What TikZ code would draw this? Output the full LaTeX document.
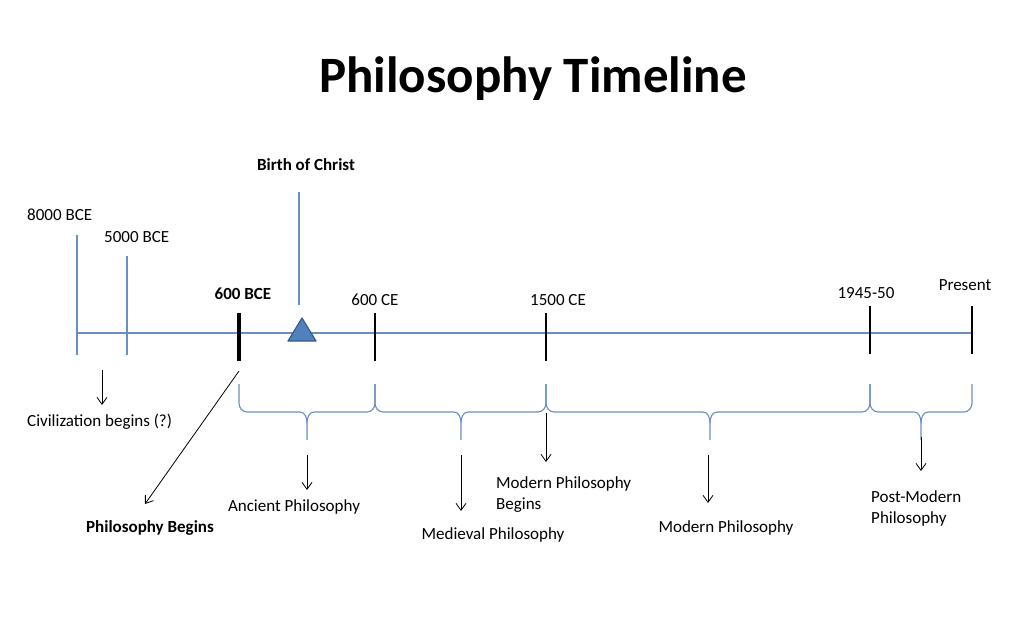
\documentclass[tikz,border=0pt]{standalone}
\usepackage{fontspec}
\setmainfont{Carlito}
\usetikzlibrary{arrows.meta}
\definecolor{tlblue}{RGB}{105,142,196}
\definecolor{tlfill}{RGB}{79,129,189}
\definecolor{tledge}{RGB}{56,93,138}

\begin{document}
\begin{tikzpicture}[x=1pt,y=-1pt,
    lbl/.style={font=\fontsize{17}{21}\selectfont, inner sep=0pt},
    blbl/.style={font=\fontsize{17}{21}\selectfont\bfseries, inner sep=0pt},
    bluetick/.style={draw=tlblue, line width=1.1pt},
    blacktick/.style={draw=black, line width=1.3pt},
    brace/.style={draw=tlblue, line width=1.1pt},
    pointer/.style={-{Straight Barb[length=7pt,width=10pt]}, line width=0.8pt}]
\fill[white] (0,0) rectangle (1024,640);
\useasboundingbox (0,0) rectangle (1024,640);
% Title
\node[font=\fontsize{51}{56}\selectfont\bfseries] (title) at (533,79) {Philosophy Timeline};
% Dates
\node[lbl, anchor=west] (d8000) at (27,215) {8000 BCE};
\node[lbl, anchor=west] (d5000) at (104,237) {5000 BCE};
\node[blbl] (d600b) at (243,294) {600 BCE};
\node[blbl] (christ) at (306,165) {Birth of Christ};
\node[lbl] (d600c) at (375,300) {600 CE};
\node[lbl] (d1500) at (558,300) {1500 CE};
\node[lbl] (d1945) at (866,293) {1945-50};
\node[lbl] (present) at (965,285) {Present};
% Tick ends
\coordinate (s) at (77,333);
\coordinate (e) at (972,333);
\coordinate (t8000a) at (77,235); \coordinate (t8000b) at (77,355);
\coordinate (t5000a) at (127,256); \coordinate (t5000b) at (127,355);
\coordinate (t600ba) at (239,313); \coordinate (t600bb) at (239,361);
\coordinate (tchra) at (299,192); \coordinate (tchrb) at (299,305);
\coordinate (t600ca) at (375,313); \coordinate (t600cb) at (375,361);
\coordinate (t1500a) at (546,313); \coordinate (t1500b) at (546,361);
\coordinate (t1945a) at (870,306); \coordinate (t1945b) at (870,354);
\coordinate (tnowa) at (972,306); \coordinate (tnowb) at (972,354);
% Timeline
\draw[bluetick] (s) -- (e);
\draw[bluetick] (t8000a) -- (t8000b);
\draw[bluetick] (t5000a) -- (t5000b);
\draw[bluetick] (tchra) -- (tchrb);
\draw[black, line width=4.5pt] (t600ba) -- (t600bb);
\draw[blacktick] (t600ca) -- (t600cb);
\draw[blacktick] (t1500a) -- (t1500b);
\draw[blacktick] (t1945a) -- (t1945b);
\draw[blacktick] (tnowa) -- (tnowb);
\draw[fill=tlfill, draw=tledge, line width=1.2pt, line join=round] (302,318) -- (316,341) -- (288,341) -- cycle;
% Braces
\foreach \l/\m/\r in {239/307/375, 375/461/546, 546/710/870, 870/921/972}{
  \draw[brace] (\l,384) -- (\l,403) to[out=-90,in=180] (\l+8,412) -- (\m-7,412) to[out=0,in=90] (\m,423) -- (\m,440);
  \draw[brace] (\r,384) -- (\r,403) to[out=-90,in=0] (\r-8,412) -- (\m+7,412) to[out=180,in=90] (\m,423);
}
% Periods
\node[lbl, anchor=west] (civ) at (27,422) {Civilization begins (?)};
\node[blbl] (begins) at (150,528) {Philosophy Begins};
\node[lbl] (ancient) at (294,507) {Ancient Philosophy};
\node[lbl] (medieval) at (493,535) {Medieval Philosophy};
\node[lbl, anchor=west, align=left] (mbegins) at (496,495) {Modern Philosophy\\Begins};
\node[lbl] (modern) at (726,528) {Modern Philosophy};
\node[lbl, anchor=west, align=left] (postmod) at (871,508) {Post-Modern\\Philosophy};
% Pointers
\coordinate (pciv) at (102,370); \coordinate (qciv) at (102,405);
\coordinate (pbeg) at (239,371); \coordinate (qbeg) at (145,504);
\coordinate (panc) at (307,455); \coordinate (qanc) at (307,490);
\coordinate (pmed) at (461,455); \coordinate (qmed) at (461,511);
\coordinate (pmb) at (546,413); \coordinate (qmb) at (546,462);
\coordinate (pmod) at (708,455); \coordinate (qmod) at (708,503);
\coordinate (ppm) at (921,437); \coordinate (qpm) at (921,471);
\draw[pointer] (pciv) -- (qciv);
\draw[pointer] (pbeg) -- (qbeg);
\draw[pointer] (panc) -- (qanc);
\draw[pointer] (pmed) -- (qmed);
\draw[pointer] (pmb) -- (qmb);
\draw[pointer] (pmod) -- (qmod);
\draw[pointer] (ppm) -- (qpm);
\end{tikzpicture}
\end{document}
